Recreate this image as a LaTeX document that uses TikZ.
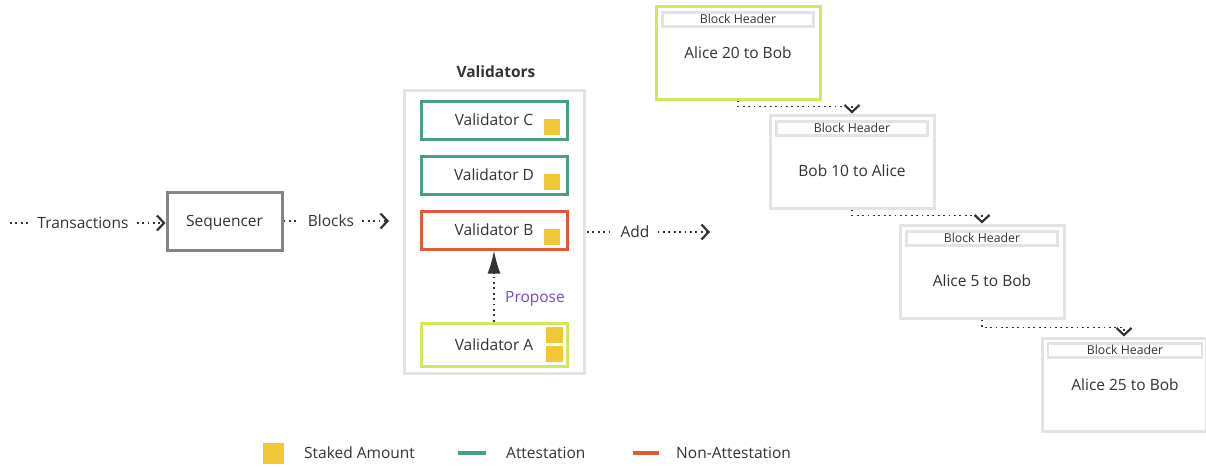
\documentclass[tikz,border=0pt]{standalone}
\usepackage{fontspec}
\setmainfont{Open Sans}
\usetikzlibrary{arrows.meta}
\definecolor{txt}{HTML}{333333}
\definecolor{seqgray}{HTML}{858585}
\definecolor{lightgray}{HTML}{E3E3E3}
\definecolor{attest}{HTML}{4A9E88}
\definecolor{nonattest}{HTML}{E2583A}
\definecolor{proposer}{HTML}{D4E65A}
\definecolor{stake}{HTML}{F2C735}
\definecolor{purple}{HTML}{7A45D0}
\begin{document}
\begin{tikzpicture}[x=1pt,y=-1pt,
  every node/.style={text=txt, font=\fontsize{15.5}{18}\selectfont, text height=11pt, text depth=0pt},
  frame/.style={draw, line width=3pt, inner sep=0pt, fill=white},
  valbox/.style={frame, minimum width=146pt, minimum height=38pt},
  stakebox/.style={fill=stake, draw=none, minimum width=16pt, minimum height=16pt, inner sep=0pt},
  blockbox/.style={frame, draw=lightgray, minimum width=164pt, minimum height=93pt},
  hdrbox/.style={draw=lightgray, line width=2.5pt, minimum width=151pt, minimum height=14pt, inner sep=0pt, font=\fontsize{12.3}{14}\selectfont, text height=8.8pt},
  dotline/.style={line width=1.8pt, dash pattern=on 1.8pt off 3.6pt, txt},
  openhead/.style={-{Straight Barb[length=7pt, width=15pt, line width=2.2pt]}},
  labeltext/.style={inner xsep=8pt, inner ysep=2pt}
]
\useasboundingbox (0,0) rectangle (1206,466);

% --- sequencer stage ---
\node[frame, draw=seqgray, minimum width=115pt, minimum height=58pt] (seq) at (224.5,221) {Sequencer};
\coordinate (txstart) at (10,223);
\node[labeltext] (txlabel) at (83,223) {Transactions};
\draw[dotline] (txstart) -- (txlabel.west);
\draw[dotline, openhead] (txlabel.east) -- (seq.west |- txlabel.east);
\node[labeltext] (blklabel) at (331,221) {Blocks};
\coordinate (blkend) at (389,221);
\draw[dotline] (seq.east |- blklabel.west) -- (blklabel.west);
\draw[dotline, openhead] (blklabel.east) -- (blkend);

% --- validator set ---
\node[font=\bfseries\fontsize{15.5}{18}\selectfont] (valtitle) at (496,72) {Validators};
\node[frame, draw=lightgray, minimum width=180pt, minimum height=283pt] (valset) at (494,231.5) {};
\node[valbox, draw=attest] (vc) at (494,120) {Validator C};
\node[valbox, draw=attest] (vd) at (494,175) {Validator D};
\node[valbox, draw=nonattest] (vb) at (494,230) {Validator B};
\node[valbox, draw=proposer, minimum height=43pt] (va) at (494,344.5) {Validator A};
\node[stakebox] (sc) at (552,127) {};
\node[stakebox] (sd) at (552,182) {};
\node[stakebox] (sb) at (552,237) {};
\node[stakebox, minimum width=17pt] (sa1) at (554.5,335) {};
\node[stakebox, minimum width=17pt] (sa2) at (554.5,354) {};
\draw[dotline, -{Latex[length=23pt, width=13pt]}] (va.north) -- (vb.south);
\node[text=purple] (propose) at (535,297) {Propose};

% --- add to chain ---
\node[labeltext] (addlabel) at (635,232) {Add};
\coordinate (addstart) at (587,232);
\coordinate (addend) at (710,232);
\draw[dotline] (addstart) -- (addlabel.west);
\draw[dotline, openhead] (addlabel.east) -- (addend);

% --- chain of blocks ---
\node[blockbox, draw=proposer] (b1) at (738,52.5) {};
\node[hdrbox] (h1) at (738,19.5) {Block Header};
\node (t1) at (738,53) {Alice 20 to Bob};

\node[blockbox] (b2) at (852,161.5) {};
\node[hdrbox] (h2) at (852,128.5) {Block Header};
\node (t2) at (852,171) {Bob 10 to Alice};

\node[blockbox] (b3) at (982,271.5) {};
\node[hdrbox] (h3) at (982,238.5) {Block Header};
\node (t3) at (982,281) {Alice 5 to Bob};

\node[blockbox] (b4) at (1124,384.5) {};
\node[hdrbox, minimum width=154pt] (h4) at (1125,350.5) {Block Header};
\node (t4) at (1125,385) {Alice 25 to Bob};

\draw[dotline, openhead] (b1.south) -- ++(0,6) -| (b2.north);
\draw[dotline, openhead] (b2.south) -- ++(0,6) -| (b3.north);
\draw[dotline, openhead] (b3.south) -- ++(0,8) -| (b4.north);

% --- legend ---
\node[stakebox, minimum width=21pt, minimum height=21pt] (lgstake) at (273.5,453.5) {};
\node[anchor=west, inner sep=0pt] (lgstaketxt) at (304,453) {Staked Amount};
\coordinate (lgatt) at (458,453);
\draw[attest, line width=4pt] (lgatt) -- ++(28,0);
\node[anchor=west, inner sep=0pt] (lgatttxt) at (506,453) {Attestation};
\coordinate (lgnon) at (633,453);
\draw[nonattest, line width=4pt] (lgnon) -- ++(26,0);
\node[anchor=west, inner sep=0pt] (lgnontxt) at (676,453) {Non-Attestation};
\end{tikzpicture}
\end{document}
